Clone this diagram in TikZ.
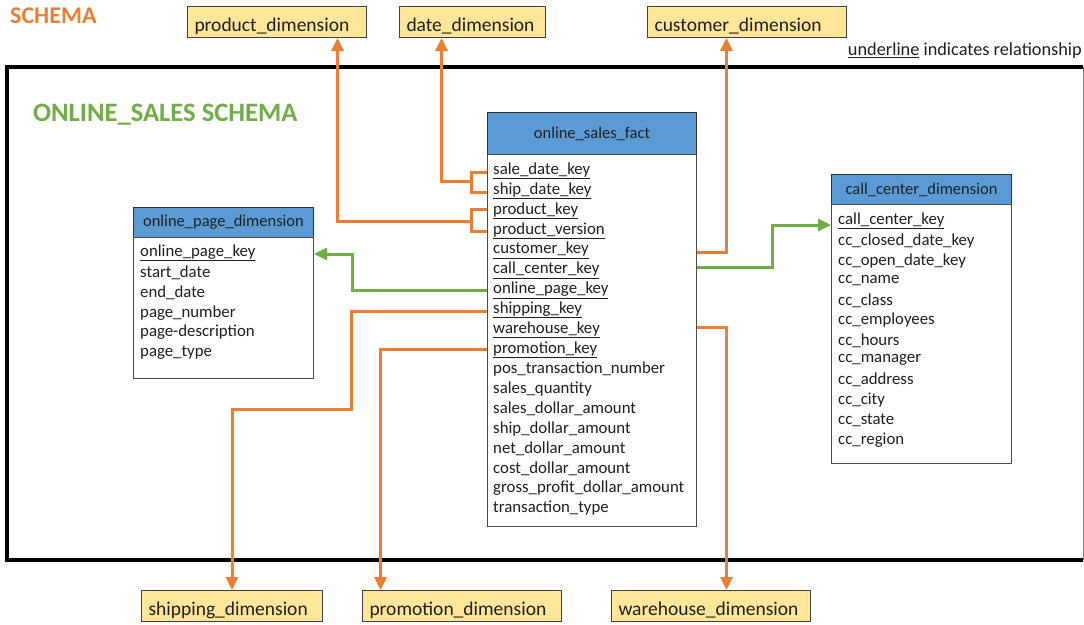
\documentclass[tikz,border=0pt]{standalone}
\usepackage{fontspec}
\setmainfont{Carlito}
\usetikzlibrary{arrows.meta,calc}
\definecolor{org}{HTML}{ED7D31}
\definecolor{grn}{HTML}{70AD47}
\definecolor{hblue}{HTML}{5B9BD5}
\definecolor{dimy}{HTML}{FFE699}
\definecolor{txt}{HTML}{1F1F1F}
\tikzset{
  dimbox/.style={draw=black!75, fill=dimy, line width=1pt, anchor=north west, minimum height=31pt, inner xsep=7pt, inner ysep=0pt, text height=19pt, text depth=1pt, align=left, font=\fontsize{19.5}{22}\selectfont, text=txt},
  hdr/.style={draw=black!80, fill=hblue, line width=1pt, anchor=north west, inner sep=0pt, font=\fontsize{16.5}{19}\selectfont, text=txt},
  tbody/.style={draw=black!70, fill=white, line width=1pt, anchor=north west, inner sep=0pt},
  rowtxt/.style={anchor=west, inner sep=0pt, font=\fontsize{16.8}{19}\selectfont, text=txt},
  oline/.style={draw=org, line width=3pt},
  gline/.style={draw=grn, line width=3pt},
  arr/.style={-{Triangle[length=13pt,width=12pt]}},
}
\begin{document}
\begin{tikzpicture}[x=1pt,y=-1pt]
\useasboundingbox (0,0) rectangle (1084,624);
% titles
\node[anchor=west, inner sep=0pt, text=org, font=\fontsize{24}{28}\selectfont\bfseries] (title) at (10,16) {SCHEMA};
\node[anchor=west, inner sep=0pt, text=grn, font=\fontsize{26.6}{30}\selectfont\bfseries] (subtitle) at (33,115) {ONLINE\_SALES SCHEMA};
\node[anchor=east, inner sep=0pt, text=txt, font=\fontsize{18.3}{21}\selectfont] (legend) at (1082,51) {\underline{underline} indicates relationship};
% frame
\draw[line width=4pt, black] (1083,67) -- (7,67) -- (7,560) -- (1083,560);
\draw[line width=1pt, black!50] (1083,67) -- (1083,560);
% dimension boxes
\node[dimbox, minimum width=179pt, text width=165pt] (prod) at (187,6) {product\_dimension};
\node[dimbox, minimum width=146pt, text width=132pt] (date) at (399,6) {date\_dimension};
\node[dimbox, minimum width=199pt, text width=185pt] (cust) at (647,6) {customer\_dimension};
\node[dimbox, minimum width=181pt, text width=167pt] (ship) at (141,590) {shipping\_dimension};
\node[dimbox, minimum width=199pt, text width=185pt] (promo) at (362,590) {promotion\_dimension};
\node[dimbox, minimum width=199pt, text width=185pt] (wh) at (611,590) {warehouse\_dimension};
% fact table
\node[hdr, minimum width=209pt, minimum height=42pt] (facth) at (487,112) {online\_sales\_fact};
\node[tbody, minimum width=209pt, minimum height=372pt] (fact) at (487,154) {};
\foreach \t [count=\i] in {sale\_date\_key, ship\_date\_key, product\_key, product\_version, customer\_key, call\_center\_key, online\_page\_key, shipping\_key, warehouse\_key, promotion\_key}
  \node[rowtxt] (f\i) at (493,{171+19.85*(\i-1)}) {\underline{\t}};
\foreach \t [count=\i from 11] in {pos\_transaction\_number, sales\_quantity, sales\_dollar\_amount, ship\_dollar\_amount, net\_dollar\_amount, cost\_dollar\_amount, gross\_profit\_dollar\_amount, transaction\_type}
  \node[rowtxt] (f\i) at (493,{171+19.85*(\i-1)}) {\t};
% online page dimension
\node[hdr, minimum width=180pt, minimum height=30pt] (oph) at (133,207) {online\_page\_dimension};
\node[tbody, minimum width=180pt, minimum height=141pt] (op) at (133,237) {};
\node[rowtxt] (op1) at (140,253) {\underline{online\_page\_key}};
\foreach \t [count=\i from 2] in {start\_date, end\_date, page\_number, page-description, page\_type}
  \node[rowtxt] (op\i) at (140,{253+19.9*(\i-1)}) {\t};
% call center dimension
\node[hdr, minimum width=180pt, minimum height=30pt] (cch) at (831,174) {call\_center\_dimension};
\node[tbody, minimum width=180pt, minimum height=259pt] (cc) at (831,204) {};
\node[rowtxt] (cc1) at (838,221) {\underline{call\_center\_key}};
\foreach \t [count=\i from 2] in {cc\_closed\_date\_key, cc\_open\_date\_key, cc\_name, cc\_class, cc\_employees, cc\_hours, cc\_manager, cc\_address, cc\_city, cc\_state, cc\_region}
  \node[rowtxt] (cc\i) at (838,{221+19.9*(\i-1)}) {\t};
% connectors: date
\draw[oline] ([yshift=-1pt]fact.west |- f1) -- ++(-16,0) |- ([yshift=-2pt]fact.west |- f2);
\draw[oline, arr] ($(fact.west |- f1)!0.5!(fact.west |- f2) + (-16,1)$) -| ([xshift=-31pt]date.south);
% product
\draw[oline] ([yshift=1pt]fact.west |- f3) -- ++(-16,0) |- ([yshift=-1pt]fact.west |- f4);
\draw[oline, arr] ($(fact.west |- f3)!0.5!(fact.west |- f4) + (-16,1)$) -| ([xshift=60.5pt]prod.south);
% customer
\draw[oline, arr] ([yshift=-2pt]fact.east |- f5) -| ([xshift=-20.5pt]cust.south);
% call center
\draw[gline, arr] ([yshift=3pt]fact.east |- f6) -- ++(75,0) |- ([yshift=-4pt]cc.west |- cc1);
% online page
\draw[gline, arr] (fact.west |- f7) -- ++(-135,0) |- ([yshift=-1pt]op.east |- op1);
% shipping
\draw[oline, arr] ([yshift=-2pt]fact.west |- f8) -- ++(-136,0) -- ++(0,98) -| (ship.north);
% warehouse
\draw[oline, arr] ([yshift=2pt]fact.east |- f9) -| ([xshift=15.5pt]wh.north);
% promotion
\draw[oline, arr] (fact.west |- f10) -| ([xshift=-81.5pt]promo.north);
\end{tikzpicture}
\end{document}
